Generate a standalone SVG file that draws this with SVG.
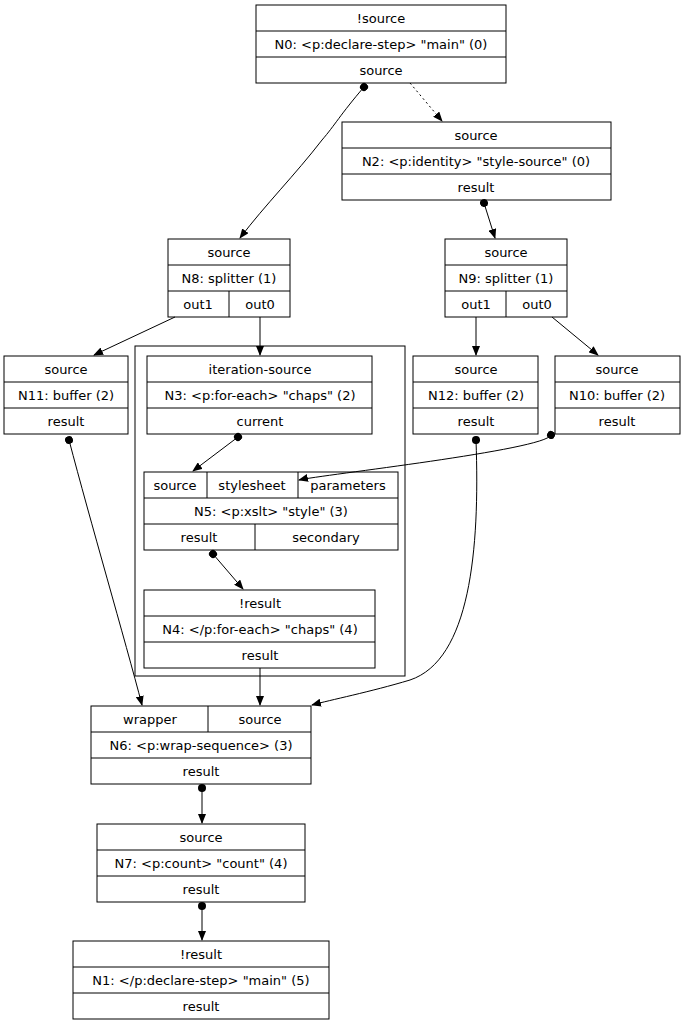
<svg xmlns="http://www.w3.org/2000/svg" width="683" height="1024" viewBox="0 0 683 1024">
<style>
rect,line.s{fill:none;stroke:#000;stroke-width:1}
text{font-family:"DejaVu Sans",sans-serif;font-size:13px;text-anchor:middle;fill:#000}
.e{fill:none;stroke:#000;stroke-width:1}
</style>
<defs>
<marker id="a" markerWidth="10" markerHeight="8" refX="9" refY="4" orient="auto" markerUnits="userSpaceOnUse"><path d="M0,0L10,4L0,8z"/></marker>
<marker id="d" markerWidth="8" markerHeight="8" refX="4" refY="4" orient="auto" markerUnits="userSpaceOnUse"><circle cx="4" cy="4" r="4"/></marker>
</defs>
<rect x="135" y="346" width="270" height="330"/>
<g id="N0"><rect x="256" y="5" width="250" height="78"/><line class="s" x1="256" y1="31" x2="506" y2="31"/><line class="s" x1="256" y1="57" x2="506" y2="57"/><text x="381" y="23">!source</text><text x="381" y="49">N0: &lt;p:declare-step&gt; "main" (0)</text><text x="381" y="75">source</text></g>
<g id="N2"><rect x="342" y="122" width="269" height="78"/><line class="s" x1="342" y1="148" x2="611" y2="148"/><line class="s" x1="342" y1="174" x2="611" y2="174"/><text x="476" y="140">source</text><text x="476" y="166">N2: &lt;p:identity&gt; "style-source" (0)</text><text x="476" y="192">result</text></g>
<g id="N8"><rect x="168" y="239" width="122" height="78"/><line class="s" x1="168" y1="265" x2="290" y2="265"/><line class="s" x1="168" y1="291" x2="290" y2="291"/><line class="s" x1="229" y1="291" x2="229" y2="317"/><text x="229" y="257">source</text><text x="229" y="283">N8: splitter (1)</text><text x="198" y="309">out1</text><text x="260" y="309">out0</text></g>
<g id="N9"><rect x="445" y="239" width="122" height="78"/><line class="s" x1="445" y1="265" x2="567" y2="265"/><line class="s" x1="445" y1="291" x2="567" y2="291"/><line class="s" x1="506" y1="291" x2="506" y2="317"/><text x="506" y="257">source</text><text x="506" y="283">N9: splitter (1)</text><text x="476" y="309">out1</text><text x="537" y="309">out0</text></g>
<g id="N11"><rect x="4" y="356" width="124" height="78"/><line class="s" x1="4" y1="382" x2="128" y2="382"/><line class="s" x1="4" y1="408" x2="128" y2="408"/><text x="66" y="374">source</text><text x="66" y="400">N11: buffer (2)</text><text x="66" y="426">result</text></g>
<g id="N3"><rect x="147" y="356" width="225" height="78"/><line class="s" x1="147" y1="382" x2="372" y2="382"/><line class="s" x1="147" y1="408" x2="372" y2="408"/><text x="260" y="374">iteration-source</text><text x="260" y="400">N3: &lt;p:for-each&gt; "chaps" (2)</text><text x="260" y="426">current</text></g>
<g id="N12"><rect x="413" y="356" width="125" height="78"/><line class="s" x1="413" y1="382" x2="538" y2="382"/><line class="s" x1="413" y1="408" x2="538" y2="408"/><text x="476" y="374">source</text><text x="476" y="400">N12: buffer (2)</text><text x="476" y="426">result</text></g>
<g id="N10"><rect x="555" y="356" width="125" height="78"/><line class="s" x1="555" y1="382" x2="680" y2="382"/><line class="s" x1="555" y1="408" x2="680" y2="408"/><text x="617" y="374">source</text><text x="617" y="400">N10: buffer (2)</text><text x="617" y="426">result</text></g>
<g id="N5"><rect x="144" y="472" width="254" height="78"/><line class="s" x1="144" y1="498" x2="398" y2="498"/><line class="s" x1="144" y1="524" x2="398" y2="524"/><line class="s" x1="207" y1="472" x2="207" y2="498"/><line class="s" x1="298" y1="472" x2="298" y2="498"/><line class="s" x1="255" y1="524" x2="255" y2="550"/><text x="175" y="490">source</text><text x="252" y="490">stylesheet</text><text x="348" y="490">parameters</text><text x="271" y="516">N5: &lt;p:xslt&gt; "style" (3)</text><text x="199" y="542">result</text><text x="326" y="542">secondary</text></g>
<g id="N4"><rect x="144" y="590" width="231" height="78"/><line class="s" x1="144" y1="616" x2="375" y2="616"/><line class="s" x1="144" y1="642" x2="375" y2="642"/><text x="260" y="608">!result</text><text x="260" y="634">N4: &lt;/p:for-each&gt; "chaps" (4)</text><text x="260" y="660">result</text></g>
<g id="N6"><rect x="91" y="706" width="220" height="78"/><line class="s" x1="91" y1="732" x2="311" y2="732"/><line class="s" x1="91" y1="758" x2="311" y2="758"/><line class="s" x1="208" y1="706" x2="208" y2="732"/><text x="150" y="724">wrapper</text><text x="260" y="724">source</text><text x="201" y="750">N6: &lt;p:wrap-sequence&gt; (3)</text><text x="201" y="776">result</text></g>
<g id="N7"><rect x="97" y="824" width="208" height="78"/><line class="s" x1="97" y1="850" x2="305" y2="850"/><line class="s" x1="97" y1="876" x2="305" y2="876"/><text x="201" y="842">source</text><text x="201" y="868">N7: &lt;p:count&gt; "count" (4)</text><text x="201" y="894">result</text></g>
<g id="N1"><rect x="73" y="941" width="256" height="78"/><line class="s" x1="73" y1="967" x2="329" y2="967"/><line class="s" x1="73" y1="993" x2="329" y2="993"/><text x="201" y="959">!result</text><text x="201" y="985">N1: &lt;/p:declare-step&gt; "main" (5)</text><text x="201" y="1011">result</text></g>
<g id="edges">
<path class="e" marker-start="url(#d)" marker-end="url(#a)" d="M364,87C340,115 335,125 322,140C295,175 265,205 240,238"/>
<path class="e" stroke-dasharray="2,3" marker-end="url(#a)" d="M410,83L442,121"/>
<path class="e" marker-start="url(#d)" marker-end="url(#a)" d="M484,203L495,238"/>
<path class="e" marker-end="url(#a)" d="M175,317L94,355"/>
<path class="e" marker-end="url(#a)" d="M260,317L260,355"/>
<path class="e" marker-end="url(#a)" d="M476,317L476,355"/>
<path class="e" marker-end="url(#a)" d="M552,317L598,355"/>
<path class="e" marker-start="url(#d)" marker-end="url(#a)" d="M238,437L193,471"/>
<path class="e" marker-start="url(#d)" marker-end="url(#a)" d="M551,435C545,450 320,475 299,480"/>
<path class="e" marker-start="url(#d)" marker-end="url(#a)" d="M213,554L243,589"/>
<path class="e" marker-end="url(#a)" d="M260,668L260,705"/>
<path class="e" marker-start="url(#d)" marker-end="url(#a)" d="M69,440C90,520 125,640 142,705"/>
<path class="e" marker-start="url(#d)" marker-end="url(#a)" d="M476,440C480,550 470,660 410,680C370,692 330,700 312,705"/>
<path class="e" marker-start="url(#d)" marker-end="url(#a)" d="M202,788L202,823"/>
<path class="e" marker-start="url(#d)" marker-end="url(#a)" d="M202,906L202,940"/>
</g>
</svg>
